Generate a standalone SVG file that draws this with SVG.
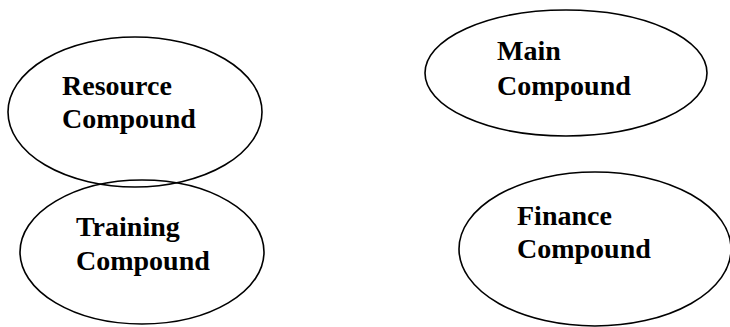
<svg xmlns="http://www.w3.org/2000/svg" width="730" height="327" viewBox="0 0 730 327">
<style>
.n{fill:none;stroke:#000;stroke-width:1.6}
.t{font-family:"Liberation Serif","Times New Roman",serif;font-weight:bold;font-size:28px;fill:#000}
</style>
<rect width="730" height="327" fill="#fff"/>
<g id="resource"><ellipse class="n" cx="135" cy="112" rx="127" ry="75"/><text class="t" x="62" y="95">Resource</text><text class="t" x="62" y="128">Compound</text></g>
<g id="training"><ellipse class="n" cx="142" cy="252" rx="122" ry="72"/><text class="t" x="76" y="236">Training</text><text class="t" x="76" y="270">Compound</text></g>
<g id="main"><ellipse class="n" cx="566" cy="73" rx="141" ry="63"/><text class="t" x="497" y="60">Main</text><text class="t" x="497" y="95">Compound</text></g>
<g id="finance"><ellipse class="n" cx="595" cy="249" rx="136" ry="77"/><text class="t" x="517" y="225">Finance</text><text class="t" x="517" y="258">Compound</text></g>
<g id="connectors"></g>
</svg>
